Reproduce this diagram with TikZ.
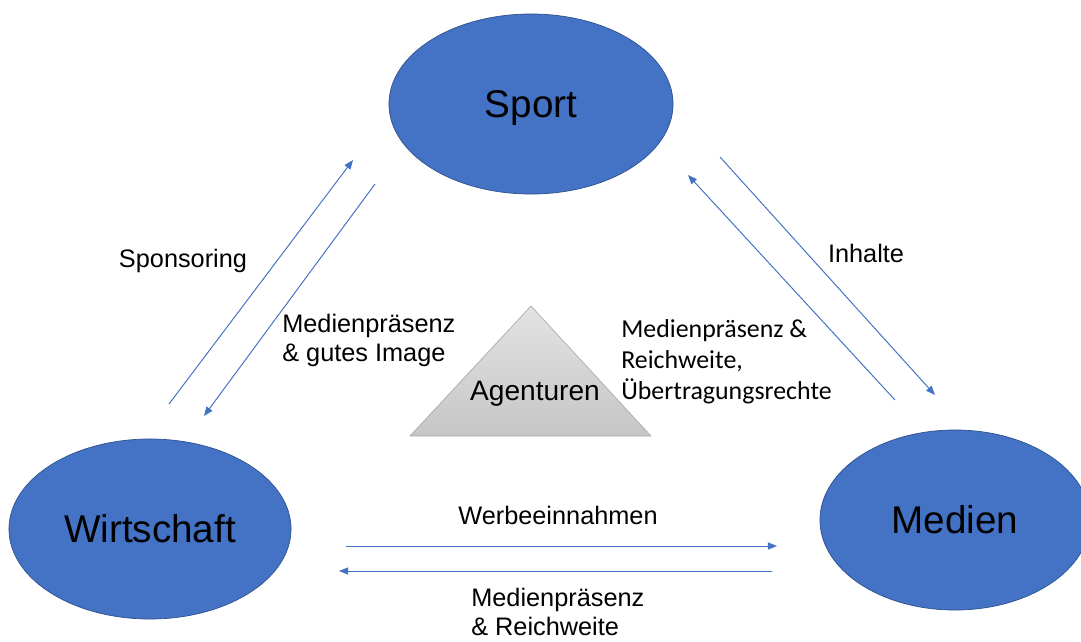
\documentclass[tikz,border=0pt]{standalone}
\usepackage{fontspec}
\setmainfont{Liberation Sans}
\newfontfamily\calibrifont{Carlito}
\usetikzlibrary{shapes.geometric,arrows.meta}
\definecolor{office blue}{HTML}{4472C4}
\definecolor{office border}{HTML}{2F528F}
\begin{document}
\begin{tikzpicture}[
  x=0.025cm, y=-0.025cm,
  bignode/.style={ellipse, draw=office border, line width=0.5pt, fill=office blue, inner sep=0pt, minimum height=4.5cm, font=\fontsize{27.5}{32}\selectfont},
  flow/.style={draw=office blue, line width=0.7pt, -{Triangle[length=2.3mm,width=1.8mm]}},
  lbl/.style={font=\fontsize{18}{20.6}\selectfont, inner sep=0pt, align=left},
  >=stealth
]
\useasboundingbox (0,0) rectangle (1081,641);

% Ellipses
\node[bignode, minimum width=7.1cm, text depth=0pt] (sport) at (531,104) {Sport};
\node[bignode, minimum width=7.05cm] (wirt) at (150,529) {Wirtschaft};
\node[bignode, minimum width=6.75cm] (medien) at (955,520) {Medien};

% Agenturen
\shade[top color=gray!22, bottom color=gray!45, draw=gray!65, line width=0.5pt]
  (531,306) -- (651,436) -- (410,436) -- cycle;
\node[font=\fontsize{20}{24}\selectfont, inner sep=0pt] (agent) at (535,394) {Agenturen};

% Arrows Sport -- Wirtschaft
\coordinate (sw1) at (169,404);
\coordinate (sw2) at (353,160);
\coordinate (ws1) at (375,184);
\coordinate (ws2) at (204,416);
\draw[flow] (sw1) -- (sw2);
\draw[flow] (ws1) -- (ws2);

% Arrows Sport -- Medien
\coordinate (sm1) at (720,157);
\coordinate (sm2) at (935,395);
\coordinate (ms1) at (895,400);
\coordinate (ms2) at (688,175);
\draw[flow] (sm1) -- (sm2);
\draw[flow] (ms1) -- (ms2);

% Arrows Wirtschaft -- Medien
\coordinate (wm1) at (346,546);
\coordinate (wm2) at (777,546);
\coordinate (mw1) at (772,571);
\coordinate (mw2) at (339,571);
\draw[flow] (wm1) -- (wm2);
\draw[flow] (mw1) -- (mw2);

% Labels
\node[lbl] (spons) at (183,261) {Sponsoring};
\node[lbl, anchor=west] (image) at (282,340) {Medienpräsenz\\\& gutes Image};
\node[lbl] (inhalt) at (866,253) {Inhalte};
\node[lbl, anchor=west, font=\calibrifont\fontsize{18.4}{22}\selectfont] (rechte) at (621,362)
  {Medienpräsenz \&\\Reichweite,\\Übertragungsrechte};
\node[lbl] (werbe) at (558,515) {Werbeeinnahmen};
\node[lbl, anchor=west] (reich) at (471,612) {Medienpräsenz\\\& Reichweite};
\end{tikzpicture}
\end{document}
